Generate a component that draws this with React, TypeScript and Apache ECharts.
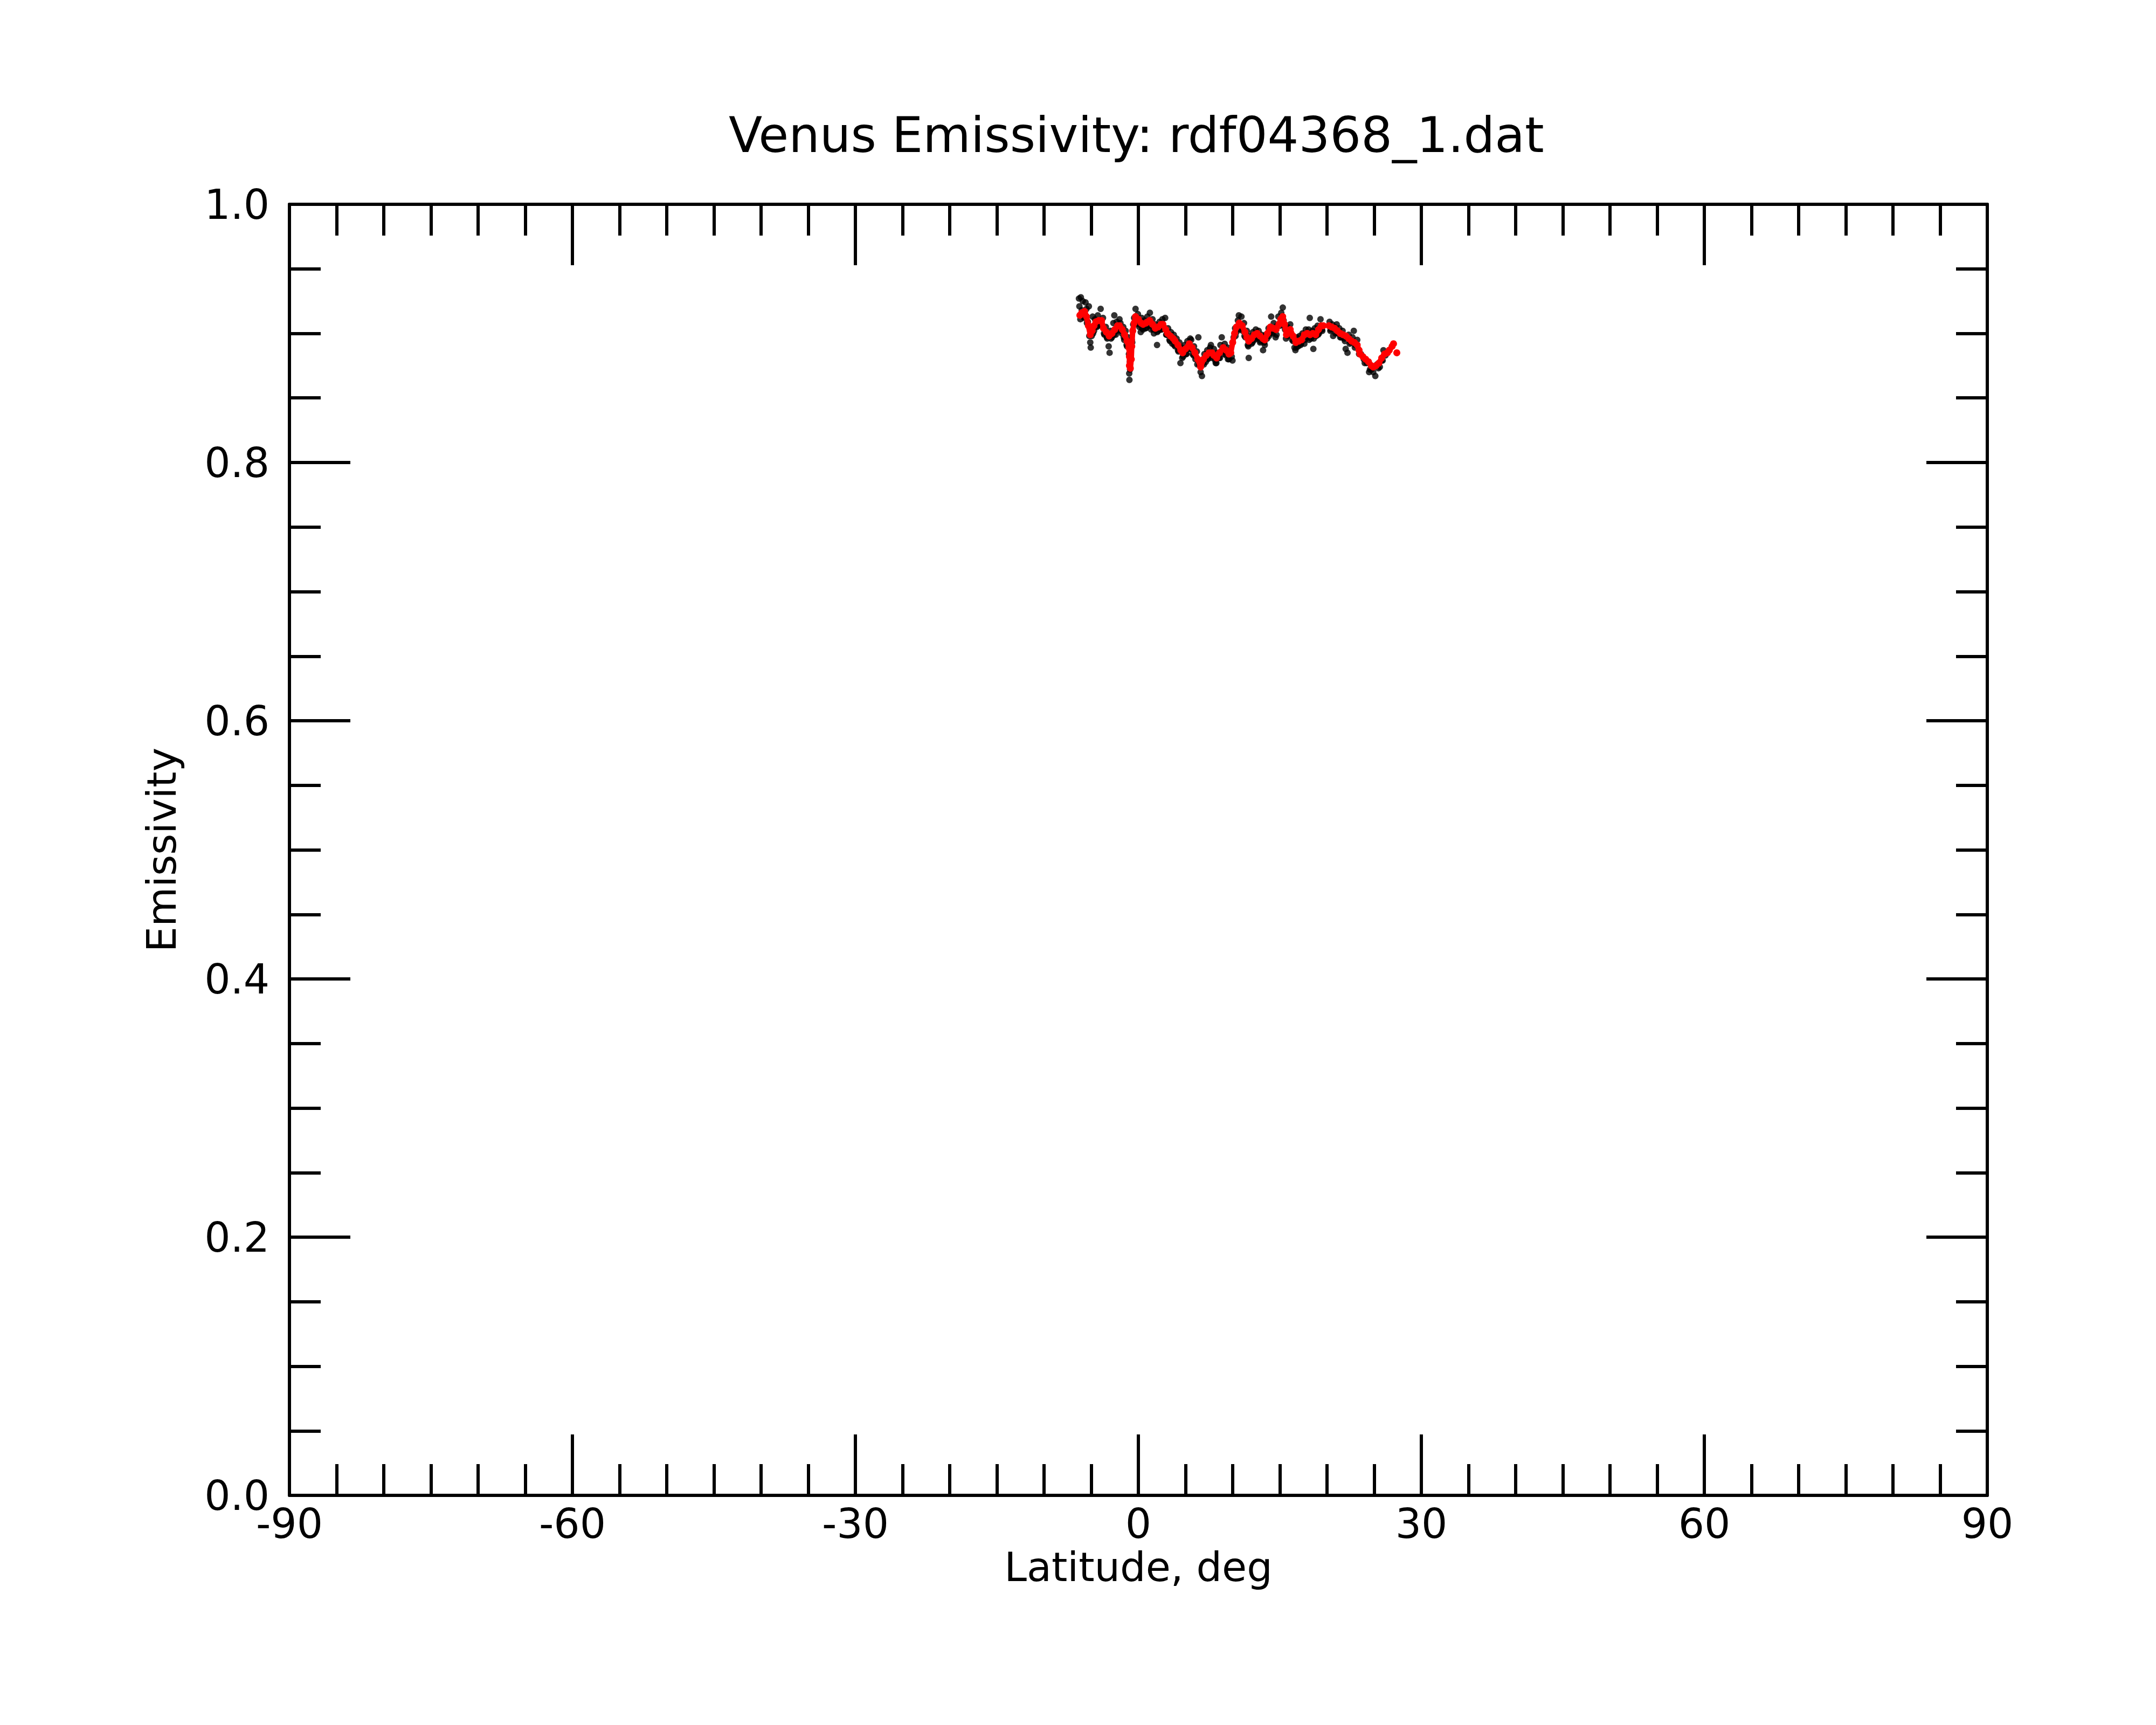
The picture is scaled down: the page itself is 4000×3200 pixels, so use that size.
import React, { useEffect, useRef } from "react";
import * as echarts from "echarts";

const titleText = "Venus Emissivity: rdf04368_1.dat";
const xName = "Latitude, deg";
const yName = "Emissivity";
const xTicks = [-90, -60, -30, 0, 30, 60, 90];
const yTicks = [0.0, 0.2, 0.4, 0.6, 0.8, 1.0];

// Smoothed curve (red)
const latRed = [
  -6.2, -6.0, -5.7, -5.5, -5.3, -5.1, -4.9, -4.7, -4.5, -4.2, -3.9, -3.7, -3.4, -3.1, -2.8, -2.5, -2.2, -2.0,
  -1.7, -1.45, -1.2, -1.0, -0.95, -0.95, -0.85, -0.75, -0.7, -0.6, -0.45, -0.3, 0.0, 0.3, 0.5, 0.8, 1.0, 1.2,
  1.5, 1.8, 2.1, 2.4, 2.6, 2.9, 3.1, 3.4, 3.7, 3.9, 4.2, 4.5, 4.7, 5.0, 5.4, 5.7, 6.0, 6.3, 6.6, 6.9, 7.2, 7.5,
  7.8, 8.0, 8.3, 8.6, 9.0, 9.3, 9.6, 9.8, 10.0, 10.2, 10.4, 10.7, 11.0, 11.3, 11.5, 11.7, 12.0, 12.3, 12.6,
  12.9, 13.2, 13.4, 13.7, 14.0, 14.3, 14.6, 14.9, 15.1, 15.3, 15.5, 15.7, 15.9, 16.1, 16.4, 16.7, 17.0, 17.3,
  17.6, 17.9, 18.2, 18.5, 18.8, 19.1, 19.4, 19.6, 19.9, 20.2, 20.5, 20.8, 21.1, 21.4, 21.7, 22.0, 22.3, 22.6,
  22.9, 23.2, 23.4, 23.5, 23.8, 24.1, 24.4, 24.7, 24.9, 25.2, 25.5, 25.8, 26.1, 26.4, 26.6, 26.9, 27.05, 27.2, 27.4,
];
const emisRed = [
  0.914, 0.916, 0.917, 0.913, 0.906, 0.899, 0.902, 0.906, 0.909, 0.91, 0.91, 0.904, 0.901, 0.898, 0.9, 0.903, 0.906, 0.906,
  0.903, 0.899, 0.894, 0.889, 0.882, 0.875, 0.873, 0.88, 0.89, 0.902, 0.908, 0.913, 0.911, 0.908, 0.907, 0.908, 0.909, 0.91,
  0.907, 0.904, 0.905, 0.907, 0.907, 0.903, 0.9, 0.898, 0.896, 0.894, 0.891, 0.887, 0.885, 0.888, 0.892, 0.889, 0.885, 0.88, 0.874, 0.88, 0.883, 0.885,
  0.885, 0.883, 0.881, 0.885, 0.889, 0.887, 0.884, 0.885, 0.893, 0.9, 0.905, 0.908, 0.906, 0.901, 0.897, 0.894, 0.896, 0.899, 0.9,
  0.898, 0.896, 0.895, 0.9, 0.905, 0.904, 0.903, 0.907, 0.911, 0.913, 0.907, 0.899, 0.902, 0.903, 0.898, 0.893, 0.894, 0.895,
  0.899, 0.9, 0.899, 0.9, 0.899, 0.903, 0.906, 0.906, null, 0.906, 0.905, 0.904, 0.902, 0.9, 0.899, 0.898, 0.896, 0.894,
  0.893, 0.891, 0.887, 0.884, 0.882, 0.88, 0.878, 0.875, 0.874, 0.875, 0.877, 0.881, 0.884, 0.885, 0.887, 0.89, 0.892, null, 0.885,
];

// Raw samples (black)
const latBlack = [
  -6.3, -6.25, -6.1, -6.0, -5.9, -5.75, -5.6, -5.5, -5.35, -5.25, -5.1, -5.05, -4.95, -4.85, -4.7, -4.6, -4.4, -4.3,
  -4.1, -4.0, -3.85, -3.75, -3.6, -3.45, -3.3, -3.15, -3.05, -2.95, -2.8, -2.65, -2.55, -2.4, -2.3, -2.15, -2.0, -1.9,
  -1.75, -1.6, -1.5, -1.35, -1.2, -1.1, -1.0, -0.97, -0.95, -0.9, -0.8, -0.7, -0.55, -0.45, -0.3, -0.2, -0.05, 0.1,
  0.25, 0.35, 0.5, 0.65, 0.8, 0.95, 1.1, 1.22, 1.35, 1.5, 1.65, 1.8, 1.98, 2.1, 2.25, 2.4, 2.55, 2.7, 2.84, 3.0,
  3.15, 3.3, 3.45, 3.6, 3.75, 3.9, 4.05, 4.2, 4.35, 4.46, 4.6, 4.75, 4.9, 5.05, 5.2, 5.35, 5.5, 5.6, 5.75, 5.9,
  6.05, 6.2, 6.36, 6.45, 6.6, 6.74, 6.85, 7.0, 7.15, 7.3, 7.45, 7.6, 7.69, 7.85, 8.0, 8.15, 8.27, 8.4, 8.55, 8.7,
  8.84, 9.0, 9.15, 9.3, 9.45, 9.6, 9.75, 9.98, 10.1, 10.25, 10.4, 10.55, 10.65, 10.8, 10.93, 11.05, 11.2, 11.35,
  11.5, 11.6, 11.7, 11.85, 12.0, 12.15, 12.3, 12.45, 12.6, 12.75, 12.9, 13.05, 13.22, 13.35, 13.5, 13.65, 13.8,
  13.95, 14.08, 14.2, 14.35, 14.55, 14.7, 14.84, 15.0, 15.15, 15.31, 15.4, 15.55, 15.65, 15.8, 15.95, 16.1, 16.25,
  16.4, 16.55, 16.65, 16.8, 16.95, 17.1, 17.25, 17.4, 17.6, 17.75, 17.9, 18.05, 18.17, 18.3, 18.45, 18.55, 18.7,
  18.85, 19.0, 19.15, 19.31, 19.45, 20.27, 20.4, 20.55, 20.65, 20.8, 21.03, 21.15, 21.3, 21.5, 21.65, 21.8, 21.98,
  22.17, 22.3, 22.5, 22.7, 22.84, 23.0, 23.2, 23.6, 23.9, 24.2, 24.46, 24.7, 25.12, 25.3, 25.6, 25.8, 25.98, 26.2,
  -6.15, -5.8, -5.45, -5.2, -4.8, -4.55, -4.25, -3.95, -3.65, -3.35, -2.9, -2.6, -2.25, -1.85, -1.55, -1.25, -0.88,
  -0.65, -0.38, 0.05, 0.4, 0.75, 1.15, 1.6, 2.0, 2.45, 2.95, 3.35, 3.8, 4.25, 4.65, 5.1, 5.45, 5.85, 6.25, 6.95,
  7.35, 7.8, 8.2, 8.65, 9.1, 9.5, 9.9, 10.3, 10.75, 11.25, 11.65, 12.1, 12.5, 12.95, 13.4, 13.85, 14.25, 14.65,
  15.05, 15.45, 15.85, 16.3, 16.75, 17.2, 17.65, 18.1, 18.6, 19.05, 19.5, 20.35, 20.9, 21.4, 21.9, 22.4, 22.95,
  23.4, 24.0, 24.55, 24.9, 25.45, 25.9,
];
const emisBlack = [
  0.927, 0.921, 0.928, 0.918, 0.925, 0.912, 0.924, 0.919, 0.909, 0.921, 0.893, 0.889, 0.898, 0.913, 0.902, 0.911, 0.905, 0.914,
  0.907, 0.919, 0.906, 0.912, 0.899, 0.905, 0.896, 0.89, 0.885, 0.902, 0.897, 0.908, 0.914, 0.899, 0.909, 0.903, 0.911, 0.908,
  0.9, 0.905, 0.895, 0.902, 0.89, 0.897, 0.884, 0.869, 0.864, 0.878, 0.885, 0.895, 0.907, 0.912, 0.919, 0.908, 0.915, 0.905,
  0.901, 0.912, 0.903, 0.91, 0.904, 0.913, 0.906, 0.916, 0.903, 0.911, 0.9, 0.907, 0.891, 0.902, 0.909, 0.903, 0.911, 0.905, 0.912, 0.899,
  0.904, 0.895, 0.901, 0.892, 0.899, 0.89, 0.896, 0.887, 0.893, 0.877, 0.889, 0.882, 0.891, 0.884, 0.894, 0.888, 0.896, 0.895, 0.884, 0.89,
  0.88, 0.886, 0.897, 0.876, 0.87, 0.867, 0.877, 0.884, 0.878, 0.887, 0.881, 0.889, 0.891, 0.882, 0.888, 0.879, 0.877, 0.885, 0.881, 0.891,
  0.897, 0.886, 0.892, 0.883, 0.889, 0.88, 0.887, 0.879, 0.897, 0.904, 0.901, 0.91, 0.914, 0.904, 0.913, 0.902, 0.908, 0.897,
  0.902, 0.891, 0.881, 0.898, 0.892, 0.901, 0.895, 0.903, 0.897, 0.902, 0.893, 0.899, 0.887, 0.893, 0.899, 0.896, 0.904,
  0.9, 0.913, 0.901, 0.908, 0.897, 0.906, 0.913, 0.908, 0.916, 0.92, 0.91, 0.903, 0.896, 0.905, 0.899, 0.907, 0.899,
  0.894, 0.889, 0.887, 0.897, 0.89, 0.898, 0.892, 0.9, 0.892, 0.903, 0.897, 0.903, 0.912, 0.896, 0.902, 0.888, 0.904,
  0.898, 0.906, 0.9, 0.911, 0.903, 0.909, 0.903, 0.907, 0.898, 0.905, 0.907, 0.9, 0.904, 0.897, 0.902, 0.896, 0.888,
  0.885, 0.899, 0.893, 0.897, 0.902, 0.891, 0.895, 0.884, 0.88, 0.877, 0.87, 0.872, 0.867, 0.876, 0.874, 0.879, 0.887, 0.883,
  0.911, 0.913, 0.908, 0.898, 0.9, 0.905, 0.906, 0.906, 0.9, 0.897, 0.896, 0.899, 0.902, 0.902, 0.897, 0.891, 0.872,
  0.893, 0.909, 0.907, 0.904, 0.904, 0.906, 0.903, 0.901, 0.903, 0.899, 0.894, 0.891, 0.886, 0.881, 0.884, 0.888, 0.883, 0.876, 0.876,
  0.88, 0.881, 0.877, 0.881, 0.884, 0.88, 0.882, 0.898, 0.903, 0.898, 0.89, 0.893, 0.896, 0.894, 0.891, 0.898, 0.9, 0.899,
  0.906, 0.906, 0.898, 0.895, 0.889, 0.891, 0.895, 0.895, 0.896, 0.899, 0.902, 0.902, 0.9, 0.897, 0.894, 0.892, 0.889,
  0.884, 0.877, 0.872, 0.87, 0.873, 0.879,
];

const FONT = "DejaVu Sans";

export default function App() {
  const ref = useRef<HTMLDivElement>(null);
  useEffect(() => {
    if (!ref.current) return;
    const chart = echarts.init(ref.current, null, { renderer: "svg" });
    const blackData = latBlack.map((x, i) => [x, emisBlack[i]]);
    const redData = latRed.map((x, i) => [x, emisRed[i] === null ? "-" : emisRed[i]]);
    const lineStyle = { color: "#000", width: 6 };
    const xCommon = {
      type: "value" as const,
      min: xTicks[0],
      max: xTicks[xTicks.length - 1],
      interval: 30,
      axisLine: { show: true, onZero: false, lineStyle },
      axisTick: { show: true, inside: true, length: 113, lineStyle },
      minorTick: { show: true, splitNumber: 6, length: 58, lineStyle },
      splitLine: { show: false },
      minorSplitLine: { show: false },
    };
    const yCommon = {
      type: "value" as const,
      min: yTicks[0],
      max: yTicks[yTicks.length - 1],
      interval: 0.2,
      axisLine: { show: true, onZero: false, lineStyle },
      axisTick: { show: true, inside: true, length: 113, lineStyle },
      minorTick: { show: true, splitNumber: 4, length: 58, lineStyle },
      splitLine: { show: false },
      minorSplitLine: { show: false },
    };
    chart.setOption({
      animation: false,
      backgroundColor: "#fff",
      title: {
        text: titleText,
        left: 1352,
        top: 205,
        padding: 0,
        textStyle: { fontFamily: FONT, fontSize: 91, fontWeight: "normal", color: "#000" },
      },
      grid: { left: 537, top: 379, width: 3150, height: 2395, containLabel: false },
      xAxis: [
        {
          ...xCommon,
          position: "bottom",
          name: xName,
          nameLocation: "middle",
          nameGap: 95,
          nameTextStyle: { fontFamily: FONT, fontSize: 75, color: "#000" },
          axisLabel: { show: true, margin: 14, fontFamily: FONT, fontSize: 76, color: "#000" },
        },
        { ...xCommon, position: "top", axisLabel: { show: false } },
      ],
      yAxis: [
        {
          ...yCommon,
          position: "left",
          name: yName,
          nameLocation: "middle",
          nameGap: 200,
          nameTextStyle: { fontFamily: FONT, fontSize: 75, color: "#000" },
          axisLabel: {
            show: true,
            margin: 37,
            fontFamily: FONT,
            fontSize: 76,
            color: "#000",
            formatter: (v: number) => v.toFixed(1),
          },
        },
        { ...yCommon, position: "right", axisLabel: { show: false } },
      ],
      series: [
        {
          type: "scatter",
          xAxisIndex: 0,
          yAxisIndex: 0,
          data: blackData,
          symbol: "circle",
          symbolSize: 12,
          itemStyle: { color: "#000" },
          z: 2,
        },
        {
          type: "line",
          xAxisIndex: 0,
          yAxisIndex: 0,
          data: redData,
          connectNulls: false,
          symbol: "circle",
          symbolSize: 13,
          showAllSymbol: true,
          lineStyle: { color: "#ff0000", width: 10 },
          itemStyle: { color: "#ff0000" },
          z: 3,
        },
      ],
    });
    return () => chart.dispose();
  }, []);
  return (
    <div
      ref={ref}
      style={{ position: "absolute", left: 0, top: 0, width: 4000, height: 3200, background: "#fff" }}
    />
  );
}
